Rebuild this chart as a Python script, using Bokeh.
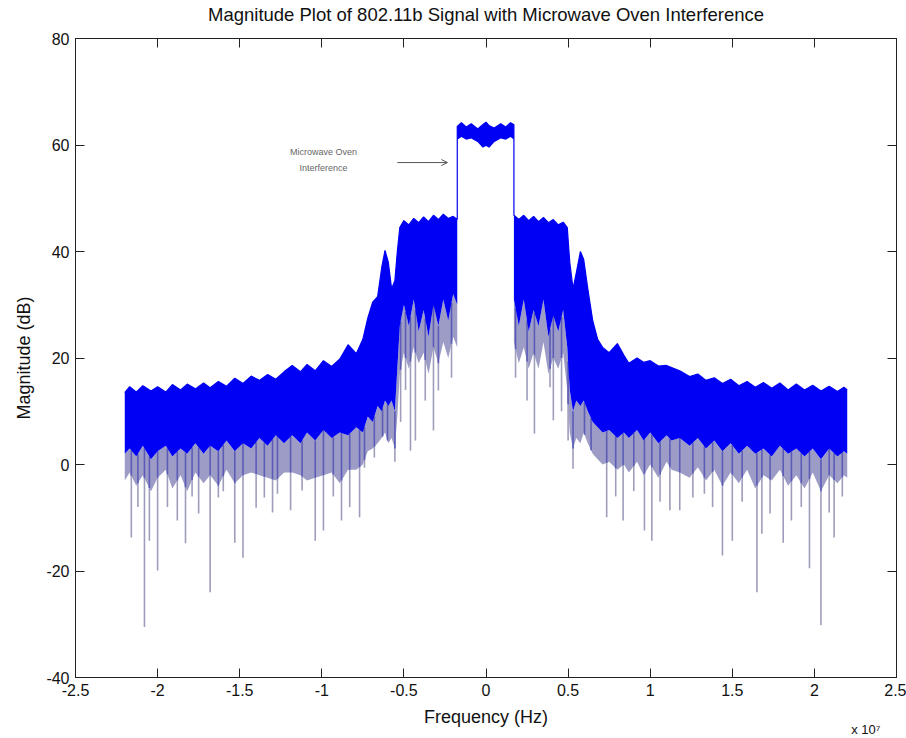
import numpy as np
from bokeh.plotting import figure
from bokeh.models import Range1d, FixedTicker, LinearAxis, Label, Arrow, OpenHead, Title
from bokeh.embed import file_html
from bokeh.resources import INLINE

# ---------------- data ----------------
# frequency grid in MHz, with the envelopes of the dense spectrum trace (dB)
freq_mhz = [-22.0, -21.7, -21.3, -20.9, -20.4, -20.0, -19.5, -19.1, -18.6, -18.2,
            -17.7, -17.2, -16.8, -16.3, -15.8, -15.3, -14.8, -14.3, -13.8, -13.3,
            -12.8, -12.3, -11.8, -11.3, -10.9, -10.4, -9.9, -9.4, -8.9, -8.4,
            -7.9, -7.5, -7.2, -6.9, -6.6, -6.35, -6.15, -5.95, -5.75, -5.55,
            -5.4, -5.25, -5.0, -4.7, -4.4, -4.1, -3.8, -3.5, -3.2, -2.9,
            -2.6, -2.3, -2.0, -1.75, -1.75, -1.5, -1.2, -0.9, -0.5, -0.2,
            0.0, 0.2, 0.5, 0.9, 1.2, 1.5, 1.7, 1.7, 2.0, 2.3,
            2.6, 2.9, 3.2, 3.5, 3.8, 4.1, 4.4, 4.7, 4.95, 5.1,
            5.3, 5.5, 5.75, 5.95, 6.2, 6.5, 6.8, 7.1, 7.5, 8.0,
            8.4, 8.7, 9.2, 9.6, 10.0, 10.5, 11.0, 11.3, 11.8, 12.4,
            12.9, 13.4, 13.9, 14.4, 14.9, 15.4, 15.9, 16.4, 16.9, 17.4,
            17.9, 18.4, 18.9, 19.4, 19.9, 20.4, 20.9, 21.4, 21.8, 22.0]

upper_db = [13.5, 14.6, 13.6, 14.8, 13.8, 14.6, 13.6, 15.0, 14.0, 15.1,
            14.2, 15.3, 14.4, 15.6, 14.7, 16.2, 15.2, 16.6, 15.8, 16.9,
            16.0, 17.4, 18.6, 17.4, 18.8, 17.6, 19.5, 18.4, 19.8, 22.5,
            20.8, 23.5, 27.5, 30.5, 31.5, 37.0, 40.2, 38.0, 33.0, 34.5,
            40.0, 44.5, 45.8, 45.0, 46.2, 45.4, 46.5, 45.6, 46.8, 46.0,
            47.0, 46.2, 46.6, 46.0, 63.5, 64.2, 63.4, 64.0, 63.0, 63.8,
            64.3, 63.6, 63.2, 64.0, 63.4, 64.2, 63.8, 46.8, 46.0, 46.8,
            45.8, 46.6, 45.6, 46.4, 45.4, 46.0, 45.0, 45.5, 44.5, 38.0,
            33.0, 36.0, 40.0, 38.5, 33.0, 27.0, 23.5, 22.0, 21.0, 22.7,
            20.5, 19.0, 20.0, 19.2, 19.5, 18.5, 18.6, 18.2, 17.6, 16.5,
            17.0, 15.8, 16.3, 15.2, 16.0, 14.8, 15.6, 14.5, 15.4, 14.3,
            15.3, 14.0, 15.1, 14.0, 14.9, 13.8, 14.7, 13.7, 14.5, 14.0]

blue_low_db = [2.0, 3.0, 1.5, 3.5, 1.0, 2.5, 3.5, 1.5, 3.0, 2.0,
               4.0, 2.0, 3.5, 2.5, 4.5, 2.5, 4.0, 3.0, 5.0, 3.5,
               5.5, 4.0, 5.5, 4.0, 6.0, 4.5, 6.5, 5.0, 6.0, 5.5,
               7.0, 6.0, 9.0, 8.0, 11.0, 10.0, 12.0, 11.0, 12.0, 10.0,
               18.0, 26.0, 30.0, 26.0, 31.0, 25.0, 29.0, 24.0, 30.0, 26.0,
               31.0, 27.0, 32.0, 30.0, 61.0, 61.5, 61.0, 61.2, 60.5, 59.5,
               59.8, 59.5, 60.5, 61.2, 61.0, 61.5, 61.0, 31.0, 26.0, 31.0,
               25.0, 29.0, 26.0, 31.0, 24.0, 28.0, 25.0, 29.0, 22.0, 14.0,
               10.0, 12.0, 11.0, 12.0, 10.0, 8.0, 7.0, 6.0, 6.5, 5.0,
               6.0, 5.0, 6.5, 4.5, 6.0, 4.0, 5.5, 4.5, 5.0, 3.5,
               5.0, 3.0, 4.5, 2.5, 4.0, 2.0, 3.5, 2.0, 3.0, 1.5,
               3.5, 2.0, 3.0, 1.5, 3.0, 1.0, 3.0, 1.5, 2.5, 2.0]

gray_low_db = [-3.0, -1.5, -4.0, -2.0, -5.0, -2.5, -1.0, -4.5, -2.0, -5.0,
               -1.5, -3.5, -2.0, -4.0, -1.0, -3.5, -2.0, -1.5, -2.0, -2.5,
               -3.0, -1.5, -1.5, -2.0, -3.0, -2.5, -2.0, -1.5, -3.5, -1.0,
               -1.0, 0.0, 2.5, 3.0, 4.0, 5.0, 6.0, 4.0, 5.0, 3.0,
               9.0, 17.0, 21.0, 18.0, 22.0, 19.0, 21.0, 17.0, 22.0, 19.0,
               23.0, 20.0, 24.0, 22.0, 61.0, 61.5, 61.0, 61.2, 60.5, 59.5,
               59.8, 59.5, 60.5, 61.2, 61.0, 61.5, 61.0, 23.0, 19.0, 22.0,
               18.0, 21.0, 18.0, 23.0, 17.0, 20.0, 18.0, 21.0, 14.0, 6.0,
               3.0, 5.0, 4.0, 6.0, 4.0, 2.0, 1.0, 0.0, 0.5, -1.0,
               0.0, -1.5, 0.5, -2.0, 0.0, -2.5, 0.5, -1.0, -1.5, -2.5,
               -0.5, -3.0, -1.0, -4.0, -1.5, -3.5, -1.0, -4.5, -2.0, -3.0,
               -1.0, -4.0, -2.0, -4.5, -1.5, -5.0, -2.0, -3.5, -2.0, -2.5]

# deep single-bin nulls of the trace (MHz, dB)
dip_freq_mhz = [-21.6, -21.2, -20.8, -20.5, -20.0, -19.4, -18.8, -18.3, -17.9, -17.5,
                -16.8, -16.3, -16.0, -15.3, -14.8, -14.0, -13.5, -13.0, -12.7, -11.9,
                -11.2, -10.4, -9.9, -9.3, -8.8, -8.3, -7.7, -7.4, -6.8, -6.3,
                -6.0, -5.55, -5.2, -4.9, -4.6, -4.3, -3.7, -3.2, -2.9, -2.1,
                1.8, 2.5, 2.95, 3.9, 4.1, 4.6, 5.0, 5.3, 6.0, 6.4,
                7.35, 7.9, 8.35, 9.0, 9.65, 10.1, 10.6, 11.2, 11.8, 12.6,
                13.3, 13.8, 14.4, 15.0, 15.6, 16.5, 16.8, 17.3, 18.1, 18.6,
                19.2, 19.7, 20.4, 20.9, 21.2, 21.7]
dip_db = [-13.7, -8.0, -30.5, -14.3, -19.9, -8.0, -10.5, -14.8, -6.0, -9.2,
          -24.0, -6.2, -5.0, -14.7, -17.5, -8.1, -6.2, -9.0, -5.5, -8.6,
          -4.9, -14.3, -12.4, -6.0, -10.5, -8.0, -9.9, -0.6, 1.3, 6.0,
          10.0, 0.5, 8.0, 14.0, 2.6, 4.5, 12.0, 6.4, 13.9, 16.3,
          16.3, 12.0, 5.8, 14.5, 8.3, 10.0, 4.5, -0.8, 6.0, 3.0,
          -9.9, -6.0, -10.5, -5.0, -12.4, -14.3, -7.0, -8.6, -8.6, -6.2,
          -5.5, -8.0, -17.1, -14.3, -7.0, -24.0, -13.0, -9.2, -14.7, -10.5,
          -8.0, -19.5, -30.2, -9.0, -13.7, -6.0]

x_ticks = [-2.5, -2.0, -1.5, -1.0, -0.5, 0.0, 0.5, 1.0, 1.5, 2.0, 2.5]
x_tick_labels = ["-2.5", "-2", "-1.5", "-1", "-0.5", "0", "0.5", "1", "1.5", "2", "2.5"]
y_ticks = [-40, -20, 0, 20, 40, 60, 80]
y_tick_labels = ["-40", "-20", "0", "20", "40", "60", "80"]

title_text = "Magnitude Plot of 802.11b Signal with Microwave Oven Interference"
x_label = "Frequency (Hz)"
y_label = "Magnitude (dB)"
x_multiplier = "x 10\u2077"
note_lines = ["Microwave Oven", "Interference"]

# ---------------- styling ----------------
FONT = "Liberation Sans"
BLUE = "#0000f4"
GRAY_BAND = "#9c9cc6"
DIP_COLOR = "#9e9ebc"
STREAK = "#5c5cb8"
AX = "#222222"

x = np.array(freq_mhz) / 10.0          # units of 1e7 Hz
up = np.array(upper_db)
blo = np.array(blue_low_db)
glo = np.array(gray_low_db)
dx = np.array(dip_freq_mhz) / 10.0
dtop = np.interp(dx, x, blo)
dmid = np.interp(dx, x, glo)

p = figure(width=906, height=738, output_backend="svg", toolbar_location=None,
           x_range=Range1d(-2.5, 2.5), y_range=Range1d(-40, 80),
           min_border_left=75, min_border_right=10, min_border_top=38, min_border_bottom=61)
p.background_fill_color = "white"
p.border_fill_color = "white"
p.outline_line_color = AX
p.outline_line_width = 1
p.grid.visible = False

p.segment(x0=dx, y0=np.array(dip_db), x1=dx, y1=dtop, line_color=DIP_COLOR, line_width=1.6)
p.varea(x=x, y1=glo, y2=blo, fill_color=GRAY_BAND)
p.segment(x0=dx, y0=dmid, x1=dx, y1=dtop, line_color=STREAK, line_width=1.6)
p.varea(x=x, y1=blo, y2=up, fill_color=BLUE)
p.line(x, up, line_color=BLUE, line_width=1.2)

def style_axis(ax, labels=True):
    ax.axis_line_color = AX
    ax.major_tick_line_color = AX
    ax.major_tick_in = 9
    ax.major_tick_out = 0
    ax.minor_tick_line_color = None
    ax.major_label_text_font = FONT
    ax.major_label_text_font_size = "16px"
    ax.major_label_text_color = "#111111"
    ax.axis_label_text_font = FONT
    ax.axis_label_text_font_size = "18px"
    ax.axis_label_text_font_style = "normal"
    ax.axis_label_text_color = "#111111"
    if not labels:
        ax.major_label_text_font_size = "1px"
        ax.major_label_text_color = None
        ax.major_label_standoff = 0

p.xaxis.ticker = FixedTicker(ticks=x_ticks)
p.xaxis.major_label_overrides = {t: s for t, s in zip(x_ticks, x_tick_labels)}
p.yaxis.ticker = FixedTicker(ticks=y_ticks)
p.yaxis.major_label_overrides = {t: s for t, s in zip(y_ticks, y_tick_labels)}
p.xaxis.axis_label = x_label
p.yaxis.axis_label = y_label
style_axis(p.xaxis[0])
style_axis(p.yaxis[0])
p.xaxis.major_label_standoff = 6
p.xaxis.axis_label_standoff = 8
p.yaxis.major_label_standoff = 6
p.yaxis.axis_label_standoff = 9

# top axis carries the chart title as its label (keeps the title close to the canvas top)
top_ax = LinearAxis(ticker=FixedTicker(ticks=x_ticks))
right_ax = LinearAxis(ticker=FixedTicker(ticks=y_ticks))
style_axis(top_ax, labels=False)
style_axis(right_ax, labels=False)
top_ax.axis_label = title_text
top_ax.axis_label_text_font_size = "18.5px"
top_ax.axis_label_standoff = 14
p.add_layout(top_ax, "above")
p.add_layout(right_ax, "right")

p.add_layout(Title(text=x_multiplier, align="right", vertical_align="top", offset=16, standoff=-16,
                   text_font=FONT, text_font_size="13px", text_font_style="normal",
                   text_color="#111111"), "below")

p.add_layout(Label(x=-0.99, y=58.6, text=note_lines[0], text_align="center",
                   text_baseline="middle", text_font=FONT, text_font_size="9px",
                   text_color="#666666"))
p.add_layout(Label(x=-0.99, y=55.6, text=note_lines[1], text_align="center",
                   text_baseline="middle", text_font=FONT, text_font_size="9px",
                   text_color="#666666"))
p.add_layout(Arrow(end=OpenHead(size=6, line_color="#555555", line_width=1),
                   x_start=-0.54, y_start=56.7, x_end=-0.235, y_end=56.7,
                   line_color="#555555", line_width=1))

open("out.html", "w").write(file_html(p, INLINE))
